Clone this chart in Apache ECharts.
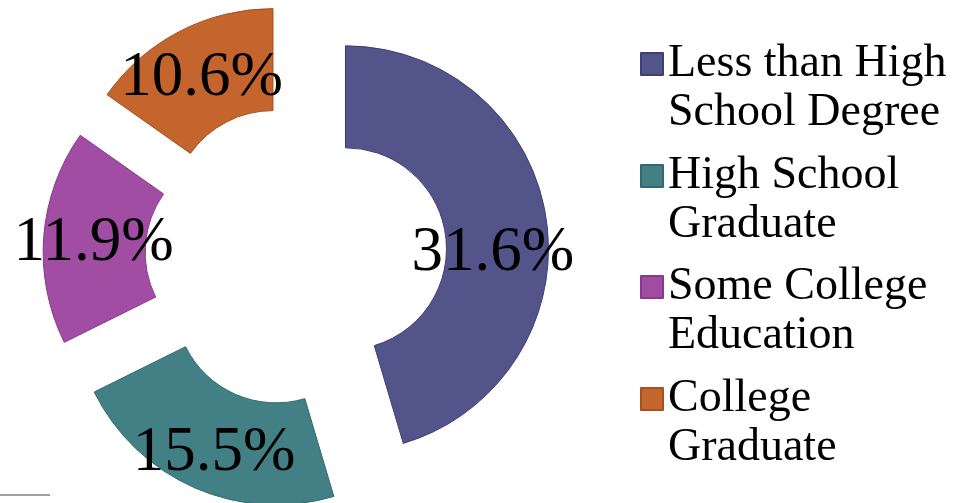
<!DOCTYPE html>
<html>
<head>
<meta charset="utf-8">
<script src="https://cdn.jsdelivr.net/npm/echarts@6/dist/echarts.min.js"></script>
<style>
html,body{margin:0;padding:0;background:#fff;}
#chart{width:959px;height:503px;}
</style>
</head>
<body>
<div id="chart"></div>
<script>
const categories = ['Less than High\nSchool Degree', 'High School\nGraduate', 'Some College\nEducation', 'College\nGraduate'];
const values = [31.6, 15.5, 11.9, 10.6];
const colors = ['#53548A', '#438086', '#A04DA3', '#C4652D'];
const borderColors = ['#3E3F72', '#2F6A70', '#87398A', '#A64F1F'];

// layout-only constants
const legendIconCenters = [64, 176, 287, 399];
const labelShift = [[-6, 27], [0, 10], [2, 3], [0, 4]];

const FONT = 'Liberation Serif';
const chart = echarts.init(document.getElementById('chart'), null, {renderer: 'canvas'});

const data = categories.map((name, i) => ({
  name: name,
  value: values[i],
  selected: true,
  itemStyle: {color: colors[i], borderColor: borderColors[i], borderWidth: 1}
}));

const legends = categories.map((name, i) => ({
  data: [name],
  left: 640,
  top: legendIconCenters[i] - 73.5,
  padding: 0,
  itemWidth: 22,
  itemHeight: 22,
  icon: 'rect',
  selectedMode: false,
  formatter: n => '\n' + n,
  textStyle: {fontFamily: FONT, fontSize: 46, lineHeight: 49, color: '#000'}
}));

chart.setOption({
  animation: false,
  color: colors,
  legend: legends,
  series: [{
    type: 'pie',
    center: [296, 256],
    radius: [101, 203],
    startAngle: 90,
    clockwise: true,
    selectedMode: 'multiple',
    selectedOffset: 50,
    avoidLabelOverlap: false,
    label: {
      show: true,
      position: 'inside',
      formatter: '{c}%',
      fontFamily: FONT,
      fontSize: 63,
      color: '#000'
    },
    labelLayout: function (p) {
      const s = labelShift[p.dataIndex];
      return {dx: s[0], dy: s[1]};
    },
    labelLine: {show: false},
    emphasis: {disabled: true},
    data: data
  }],
  graphic: [{
    type: 'line',
    shape: {x1: 0, y1: 495, x2: 50, y2: 495},
    style: {stroke: '#A0A0A0', lineWidth: 2}
  }]
});
</script>
</body>
</html>
